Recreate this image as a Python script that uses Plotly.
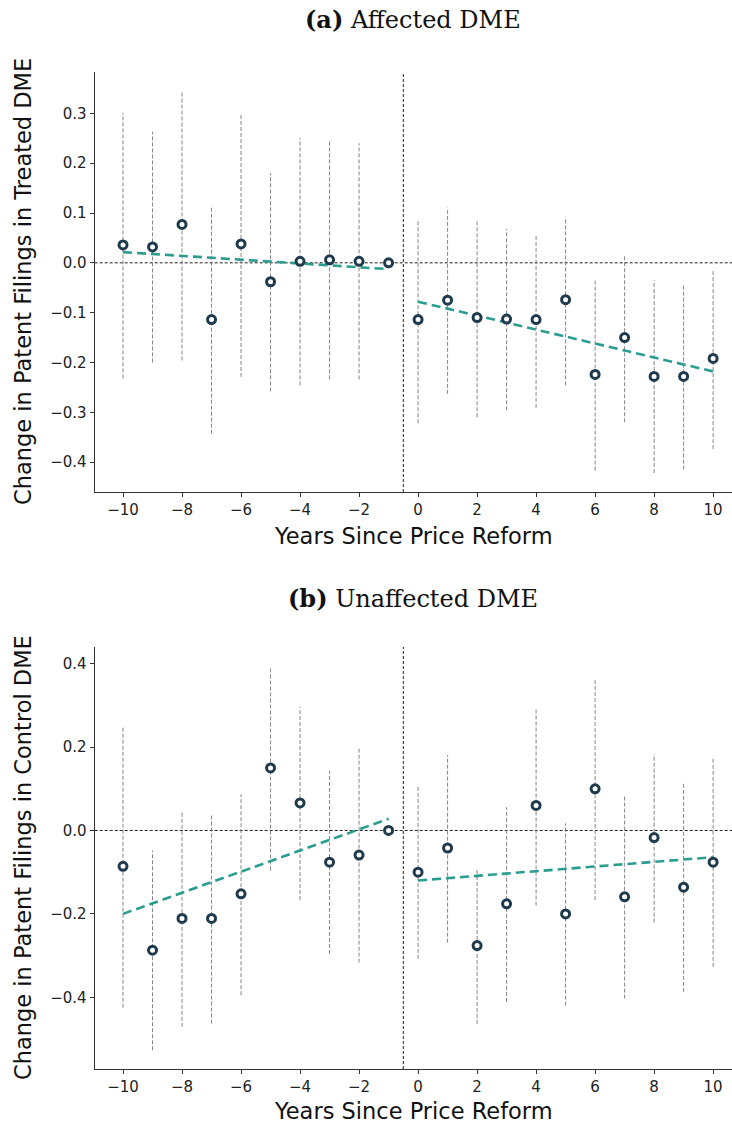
import plotly.graph_objects as go

years = list(range(-10, 11))

# Panel (a): Affected DME (treated)
a_est = [0.036, 0.032, 0.077, -0.114, 0.038, -0.038, 0.003, 0.006, 0.003, 0.0,
         -0.114, -0.075, -0.110, -0.113, -0.114, -0.074, -0.224, -0.150, -0.228, -0.228, -0.192]
a_lo = [-0.232, -0.200, -0.196, -0.343, -0.229, -0.258, -0.246, -0.234, -0.234, None,
        -0.322, -0.263, -0.310, -0.296, -0.291, -0.246, -0.417, -0.320, -0.422, -0.415, -0.374]
a_hi = [0.301, 0.263, 0.346, 0.114, 0.301, 0.180, 0.251, 0.245, 0.240, None,
        0.088, 0.111, 0.087, 0.068, 0.058, 0.092, -0.033, 0.017, -0.035, -0.045, -0.013]
a_fit_pre_x = [-10, -1]
a_fit_pre_y = [0.0215, -0.0127]
a_fit_post_x = [0, 10]
a_fit_post_y = [-0.078, -0.218]

# Panel (b): Unaffected DME (control)
b_est = [-0.086, -0.287, -0.211, -0.211, -0.152, 0.150, 0.066, -0.076, -0.059, 0.0,
         -0.100, -0.042, -0.276, -0.176, 0.060, -0.200, 0.100, -0.159, -0.017, -0.136, -0.076]
b_lo = [-0.425, -0.527, -0.471, -0.463, -0.395, -0.096, -0.167, -0.296, -0.317, None,
        -0.308, -0.269, -0.464, -0.411, -0.180, -0.420, -0.167, -0.403, -0.221, -0.387, -0.327]
b_hi = [0.249, -0.048, 0.044, 0.037, 0.087, 0.393, 0.296, 0.143, 0.196, None,
        0.108, 0.181, -0.091, 0.056, 0.295, 0.017, 0.361, 0.084, 0.183, 0.115, 0.172]
b_fit_pre_x = [-10, -1]
b_fit_pre_y = [-0.200, 0.028]
b_fit_post_x = [0, 10]
b_fit_post_y = [-0.120, -0.064]

reform_line = -0.5

titles = ["<b>(a)</b> Affected DME", "<b>(b)</b> Unaffected DME"]
ylabels = ["Change in Patent Filings in Treated DME", "Change in Patent Filings in Control DME"]
xlabel = "Years Since Price Reform"

W, H = 732, 1126
MARK = "#1f3a4c"
TEAL = "#2a9d8f"

fig = go.Figure()


def ci_segments(xs, lo, hi):
    sx, sy = [], []
    for x, l, h in zip(xs, lo, hi):
        if l is None or h is None:
            continue
        sx += [x, x, None]
        sy += [l, h, None]
    return sx, sy


panels = [
    (a_est, a_lo, a_hi, a_fit_pre_x, a_fit_pre_y, a_fit_post_x, a_fit_post_y, "x", "y"),
    (b_est, b_lo, b_hi, b_fit_pre_x, b_fit_pre_y, b_fit_post_x, b_fit_post_y, "x2", "y2"),
]

for est, lo, hi, fpx, fpy, fqx, fqy, xa, ya in panels:
    sx, sy = ci_segments(years, lo, hi)
    fig.add_trace(go.Scatter(x=sx, y=sy, mode="lines", xaxis=xa, yaxis=ya,
                             line=dict(color="#777777", width=0.9, dash="4px,2px"),
                             hoverinfo="skip", showlegend=False))
    for fx, fy in ((fpx, fpy), (fqx, fqy)):
        fig.add_trace(go.Scatter(x=fx, y=fy, mode="lines", xaxis=xa, yaxis=ya,
                                 line=dict(color=TEAL, width=2.6, dash="9px,5px"),
                                 showlegend=False))
    fig.add_trace(go.Scatter(x=years, y=est, mode="markers", xaxis=xa, yaxis=ya,
                             marker=dict(symbol="circle", size=8, color="white",
                                         line=dict(color=MARK, width=3)),
                             showlegend=False))

x_dom = [94.7 / W, 1.0]
top_dom = [1 - 492 / H, 1 - 72 / H]
bot_dom = [1 - 1069 / H, 1 - 647 / H]

axis_common = dict(showgrid=False, zeroline=False, showline=True, linecolor="#333333",
                   linewidth=1.2, ticks="outside", ticklen=4, tickwidth=1, tickcolor="#333333",
                   tickfont=dict(family="DejaVu Sans", size=15, color="#222222"))

xr = [-10.96, 10.64]
fig.update_layout(
    width=W, height=H, autosize=False,
    margin=dict(l=0, r=0, t=0, b=0),
    paper_bgcolor="white", plot_bgcolor="white",
    xaxis=dict(domain=x_dom, range=xr, anchor="y", tickmode="array",
               tickvals=list(range(-10, 11, 2)), **axis_common),
    yaxis=dict(domain=top_dom, range=[-0.46, 0.383], anchor="x", tickmode="array",
               tickvals=[-0.4, -0.3, -0.2, -0.1, 0.0, 0.1, 0.2, 0.3], tickformat=".1f",
               **axis_common),
    xaxis2=dict(domain=x_dom, range=xr, anchor="y2", tickmode="array",
                tickvals=list(range(-10, 11, 2)), **axis_common),
    yaxis2=dict(domain=bot_dom, range=[-0.572, 0.44], anchor="x2", tickmode="array",
                tickvals=[-0.4, -0.2, 0.0, 0.2, 0.4], tickformat=".1f", **axis_common),
)

shapes = []
for xa, ya in (("x", "y"), ("x2", "y2")):
    shapes.append(dict(type="line", xref=f"{xa} domain", yref=ya, x0=0, x1=1, y0=0, y1=0,
                       line=dict(color="#222222", width=1, dash="3px,2px"), layer="below"))
    shapes.append(dict(type="line", xref=xa, yref=f"{ya} domain", x0=reform_line, x1=reform_line,
                       y0=0, y1=1, line=dict(color="#222222", width=1, dash="3px,2px"), layer="below"))
fig.update_layout(shapes=shapes)

cx = (94.7 + W) / 2 / W
ann = []
for title, ylab, ty, xly, yc in ((titles[0], ylabels[0], 20, 536, 282),
                                 (titles[1], ylabels[1], 598, 1111, 858)):
    ann.append(dict(text=title, xref="paper", yref="paper", x=cx, y=1 - ty / H,
                    xanchor="center", yanchor="middle", showarrow=False,
                    font=dict(family="DejaVu Serif", size=24, color="#111111")))
    ann.append(dict(text=xlabel, xref="paper", yref="paper", x=cx, y=1 - xly / H,
                    xanchor="center", yanchor="middle", showarrow=False,
                    font=dict(family="DejaVu Sans", size=22.5, color="#111111")))
    ann.append(dict(text=ylab, xref="paper", yref="paper", x=23 / W, y=1 - yc / H,
                    xanchor="center", yanchor="middle", showarrow=False, textangle=-90,
                    font=dict(family="DejaVu Sans", size=22.5, color="#111111")))
fig.update_layout(annotations=ann)

fig.write_html("out.html")
